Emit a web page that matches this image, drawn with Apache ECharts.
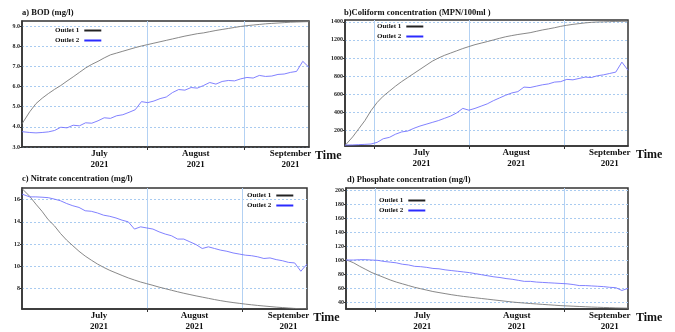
<!DOCTYPE html>
<html>
<head>
<meta charset="utf-8">
<script src="https://cdn.jsdelivr.net/npm/echarts@6/dist/echarts.min.js"></script>
<style>
  html, body { margin: 0; padding: 0; background: #fff; }
  #chart { width: 675px; height: 332px; }
</style>
</head>
<body>
<div id="chart"></div>
<script>
// days counted from 1 July 2021 (0 = Jul 1, 31 = Aug 1, 62 = Sep 1)
const days = [-9.5, -7, -5, -3, -1, 1, 3, 5, 7, 9, 11, 13, 15, 17, 19, 21, 23, 25, 27, 29, 31, 33, 35, 37, 39, 41, 43, 45, 47, 49, 51, 53, 55, 57, 59, 61, 63, 65, 67, 69, 71, 73, 75, 77, 79, 81, 83]
const monthLabelDays = [15.5, 46.5, 77]
const monthNames = ['July\n2021', 'August\n2021', 'September\n2021']

// a) BOD
const bodOutlet1 = [4.15, 4.75, 5.15, 5.42, 5.65, 5.86, 6.05, 6.27, 6.48, 6.7, 6.92, 7.1, 7.25, 7.42, 7.57, 7.66, 7.75, 7.84, 7.93, 8.01, 8.08, 8.15, 8.22, 8.29, 8.36, 8.43, 8.5, 8.56, 8.62, 8.66, 8.72, 8.78, 8.83, 8.88, 8.93, 8.98, 9.02, 9.05, 9.08, 9.11, 9.13, 9.15, 9.17, 9.19, 9.2, 9.21, 9.22]
const bodOutlet2 = [3.76, 3.72, 3.7, 3.72, 3.75, 3.82, 3.98, 3.95, 4.08, 4.05, 4.2, 4.18, 4.3, 4.45, 4.42, 4.55, 4.6, 4.72, 4.85, 5.25, 5.2, 5.28, 5.4, 5.48, 5.7, 5.85, 5.82, 5.95, 5.92, 6.05, 6.2, 6.12, 6.25, 6.3, 6.28, 6.38, 6.45, 6.42, 6.55, 6.5, 6.52, 6.6, 6.62, 6.7, 6.75, 7.25, 6.95]

// b) Coliform
const coliOutlet1 = [35, 130, 220, 310, 420, 510, 580, 635, 690, 740, 785, 830, 875, 920, 965, 1000, 1030, 1055, 1080, 1105, 1127, 1148, 1165, 1182, 1200, 1218, 1235, 1248, 1260, 1270, 1280, 1295, 1310, 1322, 1335, 1350, 1362, 1372, 1380, 1388, 1394, 1398, 1400, 1402, 1404, 1405, 1406]
const coliOutlet2 = [40, 42, 45, 48, 52, 70, 110, 125, 160, 185, 195, 225, 250, 270, 290, 310, 335, 360, 395, 445, 425, 445, 470, 495, 530, 560, 590, 615, 630, 680, 675, 690, 705, 715, 735, 740, 765, 760, 775, 790, 785, 805, 815, 830, 845, 955, 865]

// c) Nitrate
const nitOutlet1 = [17.0, 16.3, 15.6, 14.95, 14.2, 13.65, 12.95, 12.35, 11.85, 11.35, 10.92, 10.55, 10.2, 9.9, 9.63, 9.4, 9.17, 8.95, 8.76, 8.58, 8.43, 8.28, 8.12, 7.98, 7.84, 7.7, 7.57, 7.45, 7.33, 7.22, 7.11, 7.0, 6.9, 6.81, 6.73, 6.66, 6.59, 6.53, 6.47, 6.42, 6.37, 6.32, 6.28, 6.24, 6.2, 6.18, 6.16]
const nitOutlet2 = [16.5, 16.25, 16.25, 16.22, 16.18, 16.05, 15.9, 15.65, 15.45, 15.3, 15.0, 14.95, 14.8, 14.6, 14.5, 14.35, 14.15, 14.0, 13.35, 13.55, 13.45, 13.35, 13.1, 12.9, 12.75, 12.45, 12.45, 12.2, 11.95, 11.6, 11.75, 11.6, 11.45, 11.35, 11.2, 11.1, 11.0, 10.95, 10.85, 10.7, 10.75, 10.6, 10.5, 10.35, 10.3, 9.55, 10.2]

// d) Phosphate
const phosOutlet1 = [100.5, 96, 91, 86.5, 82, 78.5, 75, 71.5, 68.5, 66, 63.5, 61, 59, 57, 55, 53.5, 52, 50.5, 49.2, 48, 47, 46, 45, 44, 43, 42, 41, 40, 39.2, 38.5, 37.8, 37.2, 36.6, 36, 35.4, 34.8, 34.4, 34, 33.6, 33.2, 32.8, 32.5, 32.2, 31.9, 31.6, 31.4, 31.2]
const phosOutlet2 = [100, 100, 100.5, 100.5, 100, 99.5, 98, 97, 96, 94, 93, 91, 90.5, 89.5, 88, 87.5, 86, 85, 84, 83, 82, 80.5, 79, 77.5, 76, 75, 73.5, 72.5, 71, 69.5, 69.5, 68.5, 68, 67.5, 67, 66.5, 66, 65, 63.5, 63.5, 63, 62.5, 62, 61, 60.5, 56.5, 59.5]

const serif = 'Liberation Serif'

const panels = [
  {
    title: 'a) BOD (mg/l)', titlePos: [22, 8],
    grid: {left: 22, top: 21, width: 287, height: 126},
    legendPos: [55, 27], timeGap: 2,
    yMin: 3, yMax: 9.25, yTicks: [3, 4, 5, 6, 7, 8, 9], yFmt: v => v.toFixed(1),
    xLines: [31, 62],
    s1: bodOutlet1, s2: bodOutlet2
  },
  {
    title: 'b)Coliform concentration (MPN/100ml )', titlePos: [344, 8],
    grid: {left: 345, top: 20, width: 283, height: 126},
    legendPos: [377, 23], timeGap: 8,
    yMin: 30, yMax: 1420, yTicks: [200, 400, 600, 800, 1000, 1200, 1400], yFmt: v => String(v),
    xLines: [0, 31, 62],
    s1: coliOutlet1, s2: coliOutlet2
  },
  {
    title: 'c) Nitrate concentration (mg/l)', titlePos: [22, 174],
    grid: {left: 22, top: 188, width: 285, height: 123},
    legendPos: [247, 192], timeGap: 4,
    yMin: 6.15, yMax: 17.05, yTicks: [8, 10, 12, 14, 16], yFmt: v => String(v),
    xLines: [31, 62],
    s1: nitOutlet1, s2: nitOutlet2
  },
  {
    title: 'd) Phosphate concentration (mg/l)', titlePos: [347, 175],
    grid: {left: 346, top: 188, width: 282, height: 126},
    legendPos: [379, 197], timeGap: 8,
    yMin: 30, yMax: 203, yTicks: [40, 60, 80, 100, 120, 140, 160, 180, 200], yFmt: v => String(v),
    xLines: [0, 62],
    s1: phosOutlet1, s2: phosOutlet2
  }
]

function pairs(vals) {
  return days.map((d, k) => [d, vals[k]])
}

const option = {
  backgroundColor: '#fff',
  animation: false,
  title: panels.map(p => ({
    text: p.title,
    left: p.titlePos[0], top: p.titlePos[1], padding: 0,
    textStyle: {fontFamily: serif, fontWeight: 'bold', fontSize: 8.5, color: '#111'}
  })),
  legend: panels.map(p => ({
    data: ['Outlet 1', 'Outlet 2'],
    orient: 'vertical', align: 'right',
    left: p.legendPos[0], top: p.legendPos[1], padding: 0,
    icon: 'rect', itemWidth: 17, itemHeight: 2, itemGap: 3,
    textStyle: {fontFamily: serif, fontWeight: 'bold', fontSize: 7, color: '#111'}
  })),
  grid: panels.map(p => ({
    left: p.grid.left, top: p.grid.top, width: p.grid.width, height: p.grid.height,
    show: true, borderColor: '#333', borderWidth: 1.5, containLabel: false
  })),
  xAxis: panels.map((p, i) => ({
    type: 'value', gridIndex: i, min: -9.5, max: 83,
    name: 'Time', nameLocation: 'end', nameGap: p.timeGap,
    nameTextStyle: {fontFamily: serif, fontWeight: 'bold', fontSize: 12, color: '#111', verticalAlign: 'top', padding: [3, 0, 0, 0]},
    axisLine: {show: true, onZero: false, lineStyle: {color: '#333', width: 1.5}},
    axisTick: {show: true, customValues: p.xLines, length: 3, lineStyle: {color: '#333'}},
    splitLine: {show: true, lineStyle: {color: '#b3d1f3', width: 1}},
    axisLabel: {
      customValues: monthLabelDays, margin: 1,
      fontFamily: serif, fontWeight: 'bold', fontSize: 9, lineHeight: 11, color: '#111',
      formatter: v => monthNames[monthLabelDays.indexOf(v)]
    }
  })),
  yAxis: panels.map((p, i) => ({
    type: 'value', gridIndex: i, min: p.yMin, max: p.yMax,
    axisLine: {show: true, onZero: false, lineStyle: {color: '#333', width: 1.5}},
    axisTick: {show: true, customValues: p.yTicks, length: 2, lineStyle: {color: '#333'}},
    splitLine: {show: true, lineStyle: {color: '#a9cbf0', type: [2, 2], width: 1}},
    axisLabel: {
      customValues: p.yTicks, margin: 2, formatter: p.yFmt,
      fontFamily: serif, fontWeight: 'bold', fontSize: 6, color: '#222'
    }
  })),
  series: panels.flatMap((p, i) => [
    {
      name: 'Outlet 1', type: 'line', xAxisIndex: i, yAxisIndex: i,
      data: pairs(p.s1), showSymbol: false, smooth: false,
      itemStyle: {color: '#222'}, lineStyle: {color: '#7a7a7a', width: 0.9}
    },
    {
      name: 'Outlet 2', type: 'line', xAxisIndex: i, yAxisIndex: i,
      data: pairs(p.s2), showSymbol: false, smooth: false,
      itemStyle: {color: '#2b2bff'}, lineStyle: {color: '#7373ff', width: 0.9}
    }
  ])
}

const myChart = echarts.init(document.getElementById('chart'))
myChart.setOption(option)
</script>
</body>
</html>
